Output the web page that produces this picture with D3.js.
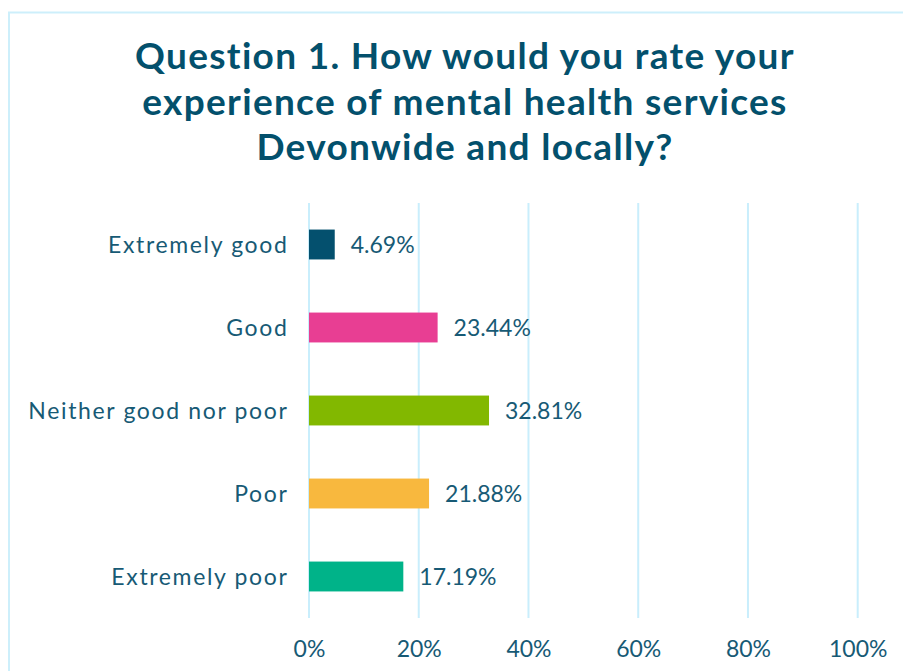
<!DOCTYPE html>
<html>
<head>
<meta charset="utf-8">
<script src="https://cdn.jsdelivr.net/npm/d3@7"></script>
<style>
  html, body { margin: 0; padding: 0; background: #ffffff; }
  svg { display: block; }
</style>
</head>
<body>
<svg id="chart" width="903" height="671"></svg>
<script>
// Survey responses: rating of mental health services
const categories = ["Extremely good", "Good", "Neither good nor poor", "Poor", "Extremely poor"];
const percentages = [4.69, 23.44, 32.81, 21.88, 17.19];
const barColors = ["#04506E", "#E83E93", "#82B800", "#F8B83E", "#00B389"];
const tickValues = [0, 20, 40, 60, 80, 100];
const titleLines = [
  "Question 1. How would you rate your",
  "experience of mental health services",
  "Devonwide and locally?"
];

const svg = d3.select("#chart");
const fontFamily = "Lato, 'Open Sans', sans-serif";
const textColor = "#175A75";

// panel outline (runs off the right and bottom edges)
svg.append("rect")
  .attr("x", 9).attr("y", 12.5)
  .attr("width", 1000).attr("height", 1000)
  .attr("fill", "none")
  .attr("stroke", "#CDEFFB")
  .attr("stroke-width", 2);

// title
svg.append("text")
  .attr("text-anchor", "middle")
  .attr("font-family", fontFamily)
  .attr("font-weight", 700)
  .attr("font-size", 37)
  .attr("letter-spacing", "1.3px")
  .attr("fill", "#03506C")
  .selectAll("tspan")
  .data(titleLines)
  .join("tspan")
  .attr("x", 465)
  .attr("y", (d, i) => 69 + i * 45.5)
  .text(d => d);

const x = d3.scaleLinear().domain([0, 100]).range([309, 857.7]);
const y = d3.scaleBand().domain(categories).range([203, 618])
  .paddingInner(0.64).paddingOuter(0.32);

// vertical gridlines
svg.append("g")
  .selectAll("line")
  .data(tickValues)
  .join("line")
  .attr("x1", d => x(d)).attr("x2", d => x(d))
  .attr("y1", 203).attr("y2", 618)
  .attr("stroke", "#C9EEFC")
  .attr("stroke-width", 2);

// x axis tick labels
const xAxis = d3.axisBottom(x)
  .tickValues(tickValues)
  .tickFormat(d => d + "%")
  .tickSize(0)
  .tickPadding(0);
const gx = svg.append("g")
  .attr("transform", "translate(0,618)")
  .call(xAxis);
gx.select(".domain").remove();
gx.selectAll("text")
  .attr("font-family", fontFamily)
  .attr("font-size", 23)
  .attr("fill", textColor)
  .attr("y", 39)
  .attr("dy", 0);

// category labels
const yAxis = d3.axisLeft(y).tickSize(0).tickPadding(0);
const gy = svg.append("g")
  .attr("transform", "translate(288.5,0)")
  .call(yAxis);
gy.select(".domain").remove();
gy.selectAll("text")
  .attr("font-family", fontFamily)
  .attr("font-size", 23)
  .attr("letter-spacing", "1.65px")
  .attr("fill", textColor)
  .attr("dy", "0.35em");

const data = categories.map((c, i) => ({ cat: c, value: percentages[i], color: barColors[i] }));

// bars
svg.append("g")
  .selectAll("rect")
  .data(data)
  .join("rect")
  .attr("x", x(0))
  .attr("y", d => y(d.cat))
  .attr("width", d => x(d.value) - x(0))
  .attr("height", y.bandwidth())
  .attr("fill", d => d.color);

// value labels
svg.append("g")
  .selectAll("text")
  .data(data)
  .join("text")
  .attr("x", d => x(d.value) + 16)
  .attr("y", d => y(d.cat) + y.bandwidth() / 2)
  .attr("dy", "0.35em")
  .attr("font-family", fontFamily)
  .attr("font-size", 23)
  .attr("fill", textColor)
  .text(d => d.value.toFixed(2) + "%");
</script>
</body>
</html>
